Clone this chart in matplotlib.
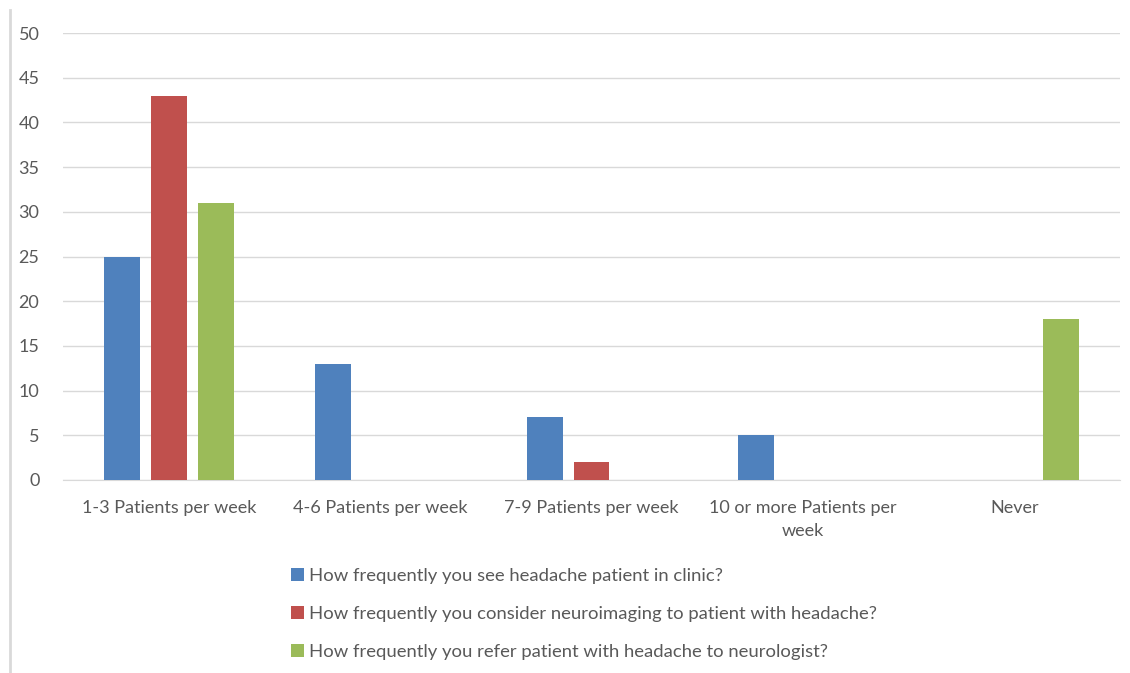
import numpy as np
import matplotlib.pyplot as plt
from matplotlib.lines import Line2D

categories = ["1-3 Patients per week", "4-6 Patients per week", "7-9 Patients per week",
              "10 or more Patients per\nweek", "Never"]
see_clinic = [25, 13, 7, 5, 0]
neuroimaging = [43, 0, 2, 0, 0]
refer_neuro = [31, 0, 0, 0, 18]
series_names = ["How frequently you see headache patient in clinic?",
                "How frequently you consider neuroimaging to patient with headache?",
                "How frequently you refer patient with headache to neurologist?"]
colors = ["#4f81bd", "#c0504d", "#9bbb59"]

plt.rcParams['font.family'] = ['Lato', 'DejaVu Sans']
txt = "#595959"

fig = plt.figure(figsize=(11.3, 6.73), dpi=100)
ax = fig.add_axes([63/1130, 1-480/673, (1120-63)/1130, (480-33)/673])

x = np.arange(len(categories))
w = 0.17
step = 0.222
for i, vals in enumerate([see_clinic, neuroimaging, refer_neuro]):
    ax.bar(x + (i-1)*step, vals, w, color=colors[i], label=series_names[i], zorder=3)

ax.set_xlim(-0.5, len(categories)-0.5)
ax.set_ylim(0, 50)
ax.set_yticks(range(0, 51, 5))
ax.grid(axis='y', color='#d9d9d9', linewidth=1, zorder=0)
for s in ['top', 'right', 'left']:
    ax.spines[s].set_visible(False)
ax.spines['bottom'].set_color('#d9d9d9')
ax.tick_params(axis='both', length=0, labelsize=13, colors=txt)
ax.tick_params(axis='y', pad=17)
ax.tick_params(axis='x', pad=14.5)
ax.set_xticks(x)
ax.set_xticklabels(categories, linespacing=1.55)

# left border line of the chart frame
fig.add_artist(Line2D([10/1130, 10/1130], [0, 1-10/673], color='#d9d9d9', linewidth=2))

handles, labels = ax.get_legend_handles_labels()
leg = fig.legend(handles, labels, loc='upper left', bbox_to_anchor=(274/1130, 1-551/673),
                 frameon=False, fontsize=13.3, labelcolor=txt, handlelength=0.75,
                 handleheight=0.75, handletextpad=0.25, labelspacing=1.18)

fig.savefig("out.png", dpi=100)
